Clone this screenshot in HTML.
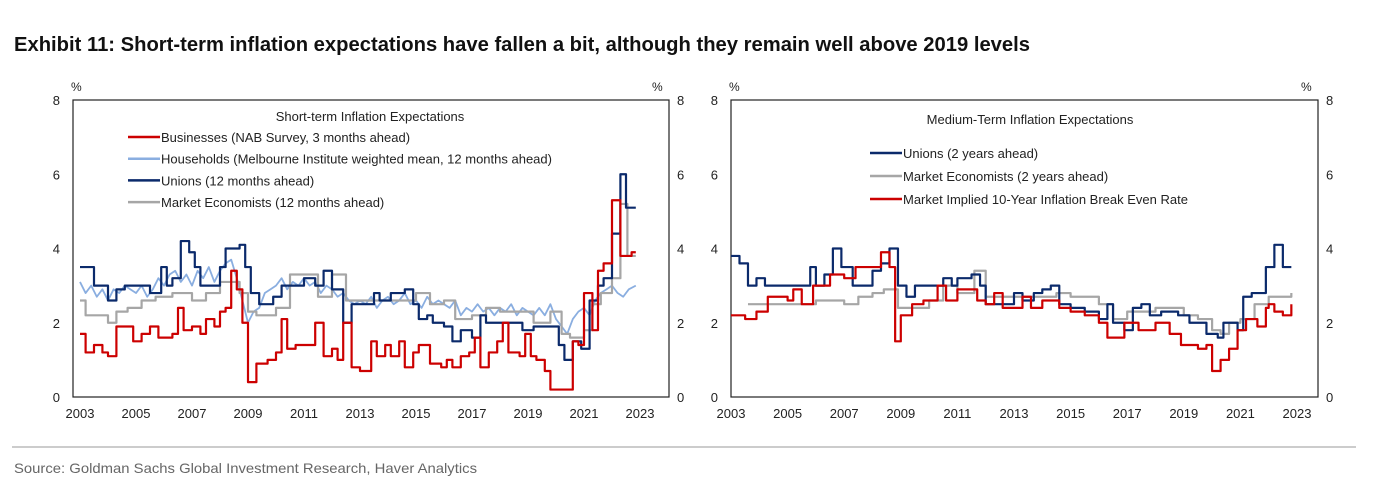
<!DOCTYPE html>
<html><head><meta charset="utf-8">
<style>
body{margin:0;background:#fff;width:1374px;height:485px;overflow:hidden;font-family:"Liberation Sans",Arial,sans-serif}
svg text{font-family:"Liberation Sans",Arial,sans-serif}
</style></head><body>
<svg width="1374" height="485" xmlns="http://www.w3.org/2000/svg">
<text x="14" y="51" font-size="20" font-weight="bold" fill="#111" textLength="1016" lengthAdjust="spacingAndGlyphs">Exhibit 11: Short-term inflation expectations have fallen a bit, although they remain well above 2019 levels</text>
<line x1="12" y1="447" x2="1356" y2="447" stroke="#999" stroke-width="1"/>
<text x="14" y="473" font-size="14" fill="#666" textLength="463" lengthAdjust="spacingAndGlyphs">Source: Goldman Sachs Global Investment Research, Haver Analytics</text>
<g id="left"></g>
<g id="right"></g>
</svg>
<script>
// ---- Left chart data (year, value) ----
const bizYears=[2003.0,2003.2,2003.5,2003.8,2004.0,2004.3,2004.9,2005.2,2005.5,2005.8,2006.3,2006.5,2006.7,2007.0,2007.3,2007.5,2007.8,2008.0,2008.2,2008.4,2008.6,2008.8,2009.0,2009.3,2009.7,2010.0,2010.2,2010.4,2010.7,2011.2,2011.4,2011.7,2012.0,2012.2,2012.4,2012.7,2013.0,2013.4,2013.6,2013.9,2014.1,2014.4,2014.6,2014.9,2015.1,2015.5,2015.9,2016.1,2016.3,2016.6,2016.9,2017.1,2017.3,2017.6,2017.9,2018.1,2018.3,2018.7,2018.9,2019.1,2019.3,2019.6,2019.8,2020.2,2020.6,2020.8,2021.0,2021.3,2021.5,2021.7,2022.0,2022.3,2022.4,2022.7,2022.85];
const bizVals=[1.7,1.2,1.4,1.2,1.1,1.9,1.5,1.7,1.9,1.6,1.7,2.4,1.8,1.9,1.7,2.1,1.9,2.3,2.4,3.4,2.9,2.0,0.4,0.9,1.0,1.2,2.1,1.3,1.4,1.4,2.0,1.1,1.3,1.0,2.0,0.8,0.7,1.5,1.1,1.4,1.1,1.5,0.8,1.2,1.4,0.9,0.8,1.0,0.8,1.1,1.2,1.6,0.8,1.2,1.5,2.0,1.2,1.1,1.7,1.1,1.0,0.7,0.2,0.2,1.5,1.4,2.8,1.8,3.4,3.6,5.3,3.8,3.8,3.9,3.9];
const hhYears=[2003.0,2003.2,2003.4,2003.6,2003.8,2004.0,2004.2,2004.4,2004.6,2004.8,2005.0,2005.2,2005.4,2005.6,2005.8,2006.0,2006.2,2006.4,2006.6,2006.8,2007.0,2007.2,2007.4,2007.6,2007.8,2008.0,2008.2,2008.4,2008.6,2008.8,2009.0,2009.2,2009.4,2009.6,2009.8,2010.0,2010.2,2010.4,2010.6,2010.8,2011.0,2011.2,2011.4,2011.6,2011.8,2012.0,2012.2,2012.4,2012.6,2012.8,2013.0,2013.2,2013.4,2013.6,2013.8,2014.0,2014.2,2014.4,2014.6,2014.8,2015.0,2015.2,2015.4,2015.6,2015.8,2016.0,2016.2,2016.4,2016.6,2016.8,2017.0,2017.2,2017.4,2017.6,2017.8,2018.0,2018.2,2018.4,2018.6,2018.8,2019.0,2019.2,2019.4,2019.6,2019.8,2020.0,2020.2,2020.4,2020.6,2020.8,2021.0,2021.2,2021.4,2021.6,2021.8,2022.0,2022.2,2022.4,2022.6,2022.85];
const hhVals=[3.1,2.8,3.0,2.7,2.9,2.6,2.9,2.8,3.0,2.9,2.8,3.0,2.7,2.9,3.2,3.0,3.3,3.4,3.1,3.3,3.0,3.4,3.2,3.5,3.1,3.4,3.6,3.7,3.2,2.6,2.0,2.3,2.4,2.8,2.9,3.0,3.2,2.9,3.1,3.0,3.2,3.0,3.1,2.8,3.0,2.9,2.7,2.8,2.6,2.5,2.6,2.5,2.7,2.4,2.6,2.7,2.5,2.6,2.8,2.5,2.6,2.4,2.7,2.5,2.6,2.5,2.4,2.6,2.2,2.4,2.3,2.5,2.3,2.4,2.2,2.4,2.3,2.5,2.2,2.4,2.3,2.2,2.4,2.2,2.5,2.1,1.9,1.7,2.1,2.3,2.4,2.2,2.6,2.8,2.9,3.0,2.8,2.7,2.9,3.0];
const unYears=[2003.0,2003.5,2004.0,2004.3,2004.6,2005.5,2005.9,2006.1,2006.3,2006.6,2006.9,2007.1,2007.3,2008.0,2008.2,2008.7,2008.9,2009.1,2009.4,2009.9,2010.2,2011.0,2011.4,2011.7,2012.0,2012.4,2012.7,2013.5,2013.7,2014.1,2014.6,2014.9,2015.1,2015.4,2015.6,2016.0,2016.3,2016.6,2017.0,2017.3,2017.5,2018.5,2018.8,2019.2,2019.8,2020.1,2020.3,2020.6,2020.9,2021.2,2021.5,2021.7,2022.0,2022.3,2022.5,2022.85];
const unVals=[3.5,3.0,2.6,2.9,3.0,2.8,3.5,3.0,3.2,4.2,3.9,3.5,3.0,3.5,4.0,4.1,3.5,2.8,2.5,2.7,3.0,3.2,3.0,3.4,2.9,2.0,2.5,2.8,2.6,2.8,2.9,2.5,2.1,2.2,2.0,1.9,1.5,1.8,1.6,2.2,2.0,2.0,1.8,1.9,1.9,1.4,1.0,1.5,1.3,2.6,3.0,3.2,4.4,6.0,5.1,5.1];
const meYears=[2003.0,2003.2,2004.0,2004.3,2004.7,2005.2,2005.7,2006.3,2007.0,2007.5,2008.0,2008.7,2009.0,2009.3,2010.0,2010.5,2011.5,2012.0,2012.5,2013.3,2014.5,2015.0,2015.5,2016.0,2016.4,2017.0,2017.5,2018.0,2018.5,2019.2,2019.8,2020.2,2020.5,2021.0,2021.3,2021.6,2022.0,2022.3,2022.55,2022.85];
const meVals=[2.6,2.2,2.0,2.3,2.4,2.6,2.7,2.8,2.6,2.8,3.1,2.8,2.3,2.2,2.4,3.3,2.7,3.3,2.6,2.6,2.6,2.8,2.5,2.6,2.1,2.2,2.4,2.3,2.3,2.0,2.3,1.7,1.6,1.8,2.5,2.8,3.2,5.2,3.8,3.8];
// ---- Right chart data ----
const un2Years=[2003.0,2003.3,2003.6,2003.9,2004.2,2005.8,2006.0,2006.3,2006.6,2006.9,2007.3,2008.0,2008.3,2008.6,2008.9,2009.2,2009.5,2010.5,2010.8,2011.0,2011.5,2011.8,2012.0,2012.5,2013.0,2013.3,2013.7,2014.0,2014.3,2014.6,2015.0,2015.5,2016.0,2016.3,2016.5,2016.9,2017.2,2017.5,2017.8,2018.2,2018.8,2019.2,2019.8,2020.2,2020.4,2020.9,2021.1,2021.4,2021.9,2022.2,2022.5,2022.8];
const un2Vals=[3.8,3.6,3.0,3.2,3.0,3.5,3.0,3.3,4.0,3.5,3.0,3.4,3.6,4.0,3.0,2.7,3.0,3.2,3.0,3.2,3.3,3.0,2.5,2.5,2.8,2.6,2.8,2.9,3.0,2.5,2.4,2.3,2.1,2.5,2.0,1.8,2.4,2.5,2.2,2.3,2.2,2.0,1.7,1.6,2.0,1.8,2.7,2.8,3.5,4.1,3.5,3.5];
const me2Years=[2003.6,2005.0,2006.0,2007.0,2007.5,2008.0,2008.4,2008.9,2010.0,2010.5,2011.0,2011.6,2012.0,2013.0,2014.0,2014.5,2015.0,2016.0,2016.5,2017.0,2017.5,2018.0,2019.0,2019.5,2020.0,2020.3,2020.6,2021.0,2021.5,2022.0,2022.5,2022.8];
const me2Vals=[2.5,2.5,2.6,2.5,2.7,2.8,2.9,2.4,2.6,3.0,2.8,3.4,2.7,2.7,2.7,2.8,2.7,2.5,2.1,2.3,2.3,2.4,2.2,2.1,1.8,1.7,2.0,2.1,2.5,2.7,2.7,2.8];
const beYears=[2003.0,2003.5,2003.9,2004.3,2005.0,2005.2,2005.5,2005.9,2006.5,2007.0,2007.4,2008.3,2008.6,2008.8,2009.0,2009.4,2009.8,2010.3,2010.6,2011.0,2011.7,2012.0,2012.3,2012.6,2013.3,2013.6,2014.0,2014.6,2015.0,2015.5,2016.0,2016.3,2016.9,2017.4,2018.0,2018.5,2018.9,2019.5,2019.8,2020.0,2020.3,2020.6,2020.9,2021.2,2021.6,2021.9,2022.0,2022.2,2022.5,2022.8];
const beVals=[2.2,2.1,2.3,2.7,2.6,2.9,2.5,3.0,3.3,3.2,3.5,3.9,3.5,1.5,2.2,2.5,2.6,3.0,2.6,2.9,2.6,2.5,2.8,2.4,2.7,2.4,2.6,2.4,2.3,2.2,2.0,1.6,2.0,1.8,2.0,1.7,1.4,1.3,1.4,0.7,1.0,1.3,1.8,2.1,1.9,2.4,2.5,2.3,2.2,2.5];
const yTicks=[0,2,4,6,8];
const xTicks=[2003,2005,2007,2009,2011,2013,2015,2017,2019,2021,2023];

const NS="http://www.w3.org/2000/svg";
function mk(parent,tag,attrs,text){const e=document.createElementNS(NS,tag);for(const k in attrs)e.setAttribute(k,attrs[k]);if(text!=null)e.textContent=text;parent.appendChild(e);return e;}

function chart(g,cfg){
  const X=y=>cfg.x0+(y-2003)*cfg.pxYear;
  const Y=v=>cfg.yb-(v/8)*(cfg.yb-cfg.yt);
  const box=mk(g,'rect',{x:cfg.bl,y:cfg.yt,width:cfg.br-cfg.bl,height:cfg.yb-cfg.yt,fill:'none',stroke:'#222','stroke-width':1.2});
  
  
  yTicks.forEach(v=>{
    const l=mk(g,'text',{x:cfg.bl-13,y:Y(v)+5,'font-size':13,'text-anchor':'end',fill:'#222'},v);
    
    
    const r=mk(g,'text',{x:cfg.br+8,y:Y(v)+5,'font-size':13,fill:'#222'},v);
    
    
  });
  const pl=mk(g,'text',{x:cfg.bl-2,y:cfg.yt-9,'font-size':12,fill:'#222'},'%');
  
  
  const pr=mk(g,'text',{x:cfg.br-17,y:cfg.yt-9,'font-size':12,fill:'#222'},'%');
  
  
  xTicks.forEach(t=>{
    const l=mk(g,'text',{x:X(t),y:cfg.yb+21,'font-size':13,'text-anchor':'middle',fill:'#222'},t);
    
    
  });
  cfg.series.forEach(s=>{
    let d='';
    s.ys.forEach((yr,i)=>{
      const px=X(yr),py=Y(s.vs[i]);
      if(i===0)d+='M'+px+' '+py;
      else if(s.step)d+=' H'+px+' V'+py;
      else d+=' L'+px+' '+py;
    });
    const p=mk(g,'path',{d:d,fill:'none',stroke:s.c,'stroke-width':s.w||2.2,'stroke-linejoin':'round'});
    
    
  });
  const t=mk(g,'text',{x:cfg.titleX,y:cfg.titleY,'font-size':13,'text-anchor':'middle',fill:'#222'},cfg.title);
  
  
  cfg.legend.forEach((L,i)=>{
    const yy=cfg.legY+i*cfg.legDy;
    const ln=mk(g,'line',{x1:cfg.legX,y1:yy,x2:cfg.legX+32,y2:yy,stroke:L.c,'stroke-width':2.5});
    
    
    const tx=mk(g,'text',{x:cfg.legX+33,y:yy+5,'font-size':13,fill:'#222'},L.t);
    
    
  });
}
const RED='#cc0000',NAVY='#0b2a6b',LB='#8aaee0',GREY='#a6a6a6';
chart(document.getElementById('left'),{x0:80,pxYear:28,bl:73,br:669,yt:100,yb:397,
  series:[{ys:hhYears,vs:hhVals,c:LB,w:1.8,name:'households-line'},
          {ys:meYears,vs:meVals,c:GREY,step:true,name:'market-economists-line'},
          {ys:unYears,vs:unVals,c:NAVY,step:true,name:'unions-line'},
          {ys:bizYears,vs:bizVals,c:RED,step:true,name:'businesses-line'}],
  title:'Short-term Inflation Expectations',titleX:370,titleY:121,
  legend:[{c:RED,t:'Businesses (NAB Survey, 3 months ahead)'},{c:LB,t:'Households (Melbourne Institute weighted mean, 12 months ahead)'},{c:NAVY,t:'Unions (12 months ahead)'},{c:GREY,t:'Market Economists (12 months ahead)'}],
  legX:128,legY:137,legDy:21.7});
chart(document.getElementById('right'),{x0:731,pxYear:28.3,bl:731,br:1318,yt:100,yb:397,
  series:[{ys:me2Years,vs:me2Vals,c:GREY,step:true,name:'market-economists-2y-line'},
          {ys:un2Years,vs:un2Vals,c:NAVY,step:true,name:'unions-2y-line'},
          {ys:beYears,vs:beVals,c:RED,step:true,name:'breakeven-line'}],
  title:'Medium-Term Inflation Expectations',titleX:1030,titleY:124,
  legend:[{c:NAVY,t:'Unions (2 years ahead)'},{c:GREY,t:'Market Economists (2 years ahead)'},{c:RED,t:'Market Implied 10-Year Inflation Break Even Rate'}],
  legX:870,legY:153,legDy:23});
</script>
</body></html>
